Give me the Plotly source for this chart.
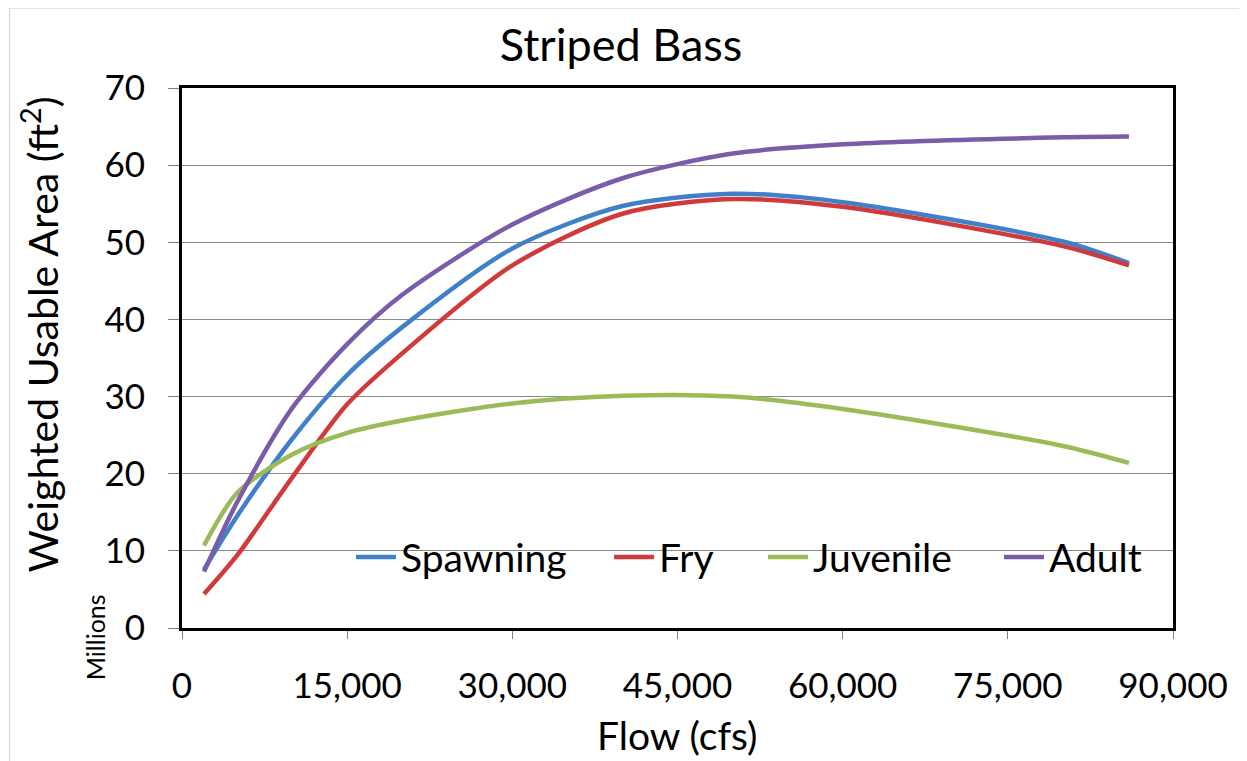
import plotly.graph_objects as go

# flow (cfs) and weighted usable area (millions of ft2)
flow = [2000, 5000, 10000, 15000, 20000, 30000, 40000, 50000, 60000, 80000, 86000]
spawning = [7.6, 14.5, 24.5, 32.8, 39.0, 49.2, 54.7, 56.3, 55.2, 50.1, 47.3]
fry = [4.4, 9.4, 19.5, 29.0, 35.6, 47.0, 53.7, 55.6, 54.6, 49.5, 47.0]
juvenile = [10.7, 17.5, 22.5, 25.3, 26.9, 29.1, 30.1, 30.0, 28.4, 23.6, 21.4]
adult = [7.3, 16.3, 28.5, 36.8, 43.2, 52.3, 58.3, 61.5, 62.7, 63.6, 63.7]

# name, values, colour, legend entry width
series = [
    ("Spawning", spawning, "#4080C8", 203),
    ("Fry", fry, "#D03A3A", 99),
    ("Juvenile", juvenile, "#9BBB59", 181),
    ("Adult", adult, "#7A5CA8", 95),
]

FONT = "Lato"

fig = go.Figure()
for name, vals, col, lw in series:
    fig.add_trace(go.Scatter(
        x=flow, y=vals, name=name, mode="lines",
        line=dict(color=col, width=4.5, shape="spline", smoothing=0.8),
        legendwidth=lw,
    ))

# page body has an 8px margin, so the margins are shifted to compensate
fig.update_layout(
    width=1247, height=761,
    margin=dict(l=174, r=82, t=80, b=141),
    paper_bgcolor="white", plot_bgcolor="white",
    font=dict(family=FONT, size=35, color="black"),
    showlegend=True,
    legend=dict(
        orientation="h", x=0.1705, y=0.131, xanchor="left", yanchor="middle",
        bgcolor="rgba(0,0,0,0)", font=dict(size=39), itemwidth=40,
        tracegroupgap=0,
    ),
    title=dict(
        text="Striped Bass", x=0.443, xref="paper", xanchor="center",
        y=0.951, yanchor="middle", font=dict(size=45, family=FONT),
    ),
    xaxis=dict(
        range=[0, 90000], dtick=15000, tickformat=",",
        showgrid=False, zeroline=False,
        showline=True, linecolor="black", linewidth=3, mirror=True,
        ticks="outside", ticklen=8, tickcolor="#808080", tickwidth=1,
        ticklabelstandoff=17,
    ),
    yaxis=dict(
        range=[0, 70], dtick=10,
        showgrid=True, gridcolor="#8a8a8a", gridwidth=1, zeroline=False,
        showline=True, linecolor="black", linewidth=3, mirror=True,
        ticks="outside", ticklen=11, tickcolor="#808080", tickwidth=1,
        ticklabelstandoff=16,
    ),
    annotations=[
        dict(text="Weighted Usable Area (ft<sup>2</sup>)", textangle=-90,
             xref="paper", yref="paper", x=-0.1435, y=0.543,
             xanchor="center", yanchor="middle", showarrow=False,
             font=dict(size=41)),
        dict(text="Millions", textangle=-90,
             xref="paper", yref="paper", x=-0.0878, y=-0.017,
             xanchor="center", yanchor="middle", showarrow=False,
             font=dict(size=25)),
        dict(text="Flow (cfs)",
             xref="paper", yref="paper", x=0.5, y=-0.198,
             xanchor="center", yanchor="middle", showarrow=False,
             font=dict(size=39)),
    ],
    shapes=[
        dict(type="rect", xref="paper", yref="paper",
             x0=-0.174, x1=1.0686, y0=-0.26, y1=1.148,
             line=dict(color="#d0d0d0", width=1), layer="below"),
    ],
)

fig.write_html("out.html")
